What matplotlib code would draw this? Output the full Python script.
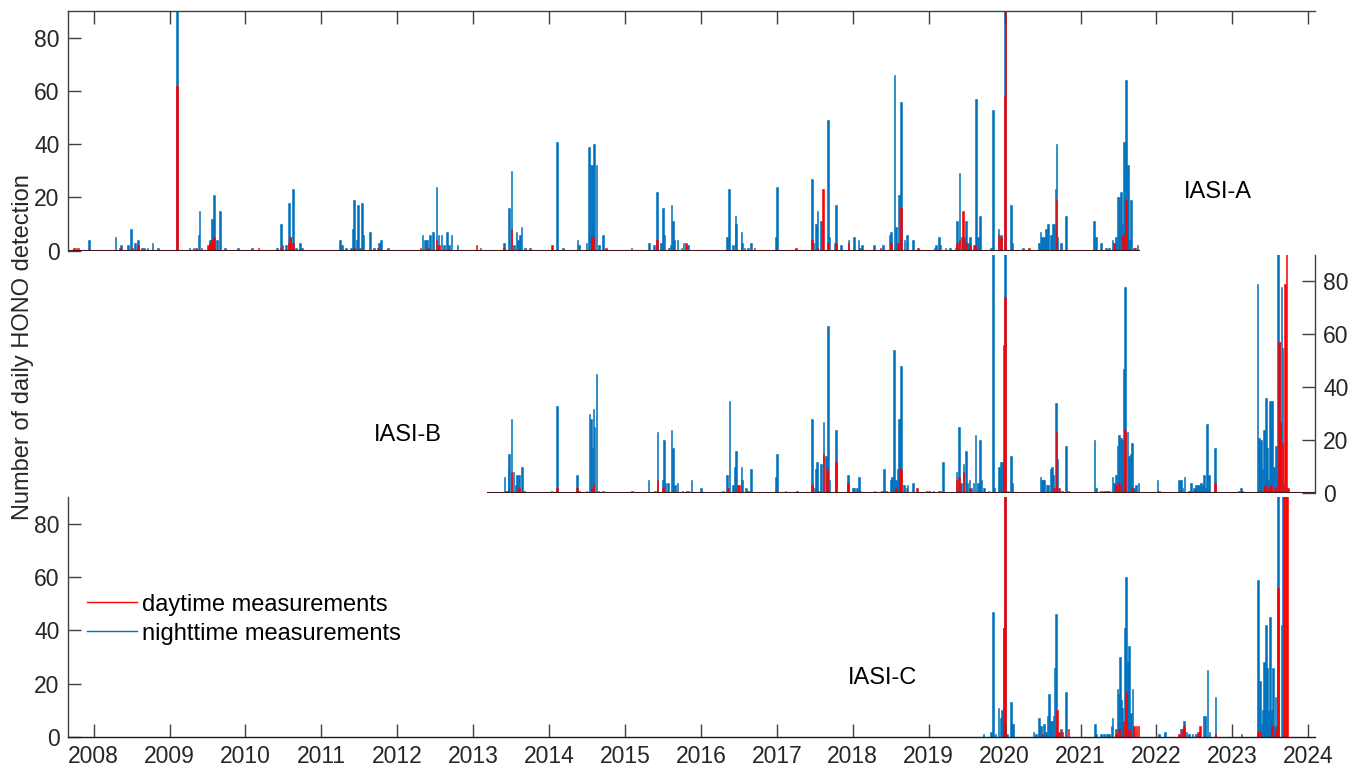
import matplotlib
matplotlib.use('Agg')
import matplotlib.pyplot as plt
from matplotlib.lines import Line2D

plt.rcParams['font.family'] = ['Liberation Sans', 'DejaVu Sans']

# daily HONO detections, dates as decimal years
# IASI-A
a_date = [2007.746, 2007.773, 2007.800, 2007.943, 2008.289, 2008.351, 2008.364, 2008.453, 2008.492, 2008.513,
          2008.545, 2008.588, 2008.637, 2008.667, 2008.711, 2008.776, 2008.851, 2009.097, 2009.263, 2009.316,
          2009.351, 2009.382, 2009.395, 2009.421, 2009.509, 2009.526, 2009.545, 2009.562, 2009.584, 2009.624,
          2009.667, 2009.733, 2009.900, 2010.084, 2010.171, 2010.413, 2010.466, 2010.483, 2010.536, 2010.571,
          2010.588, 2010.624, 2010.667, 2010.720, 2010.746, 2011.246, 2011.268, 2011.325, 2011.390, 2011.413,
          2011.430, 2011.466, 2011.483, 2011.509, 2011.539, 2011.553, 2011.641, 2011.697, 2011.742, 2011.759,
          2011.782, 2011.874, 2012.308, 2012.334, 2012.368, 2012.391, 2012.408, 2012.430, 2012.474, 2012.518,
          2012.545, 2012.553, 2012.584, 2012.614, 2012.658, 2012.684, 2012.716, 2012.795, 2013.045, 2013.097,
          2013.408, 2013.470, 2013.505, 2013.536, 2013.571, 2013.592, 2013.614, 2013.637, 2013.680, 2013.746,
          2014.039, 2014.105, 2014.184, 2014.374, 2014.395, 2014.492, 2014.526, 2014.545, 2014.562, 2014.579,
          2014.592, 2014.624, 2014.654, 2014.711, 2014.746, 2015.084, 2015.312, 2015.378, 2015.421, 2015.470,
          2015.500, 2015.518, 2015.579, 2015.597, 2015.611, 2015.628, 2015.641, 2015.693, 2015.742, 2015.772,
          2015.799, 2015.829, 2016.347, 2016.368, 2016.421, 2016.453, 2016.466, 2016.532, 2016.545, 2016.575,
          2016.618, 2016.663, 2016.707, 2016.992, 2017.005, 2017.255, 2017.466, 2017.483, 2017.518, 2017.536,
          2017.584, 2017.605, 2017.671, 2017.693, 2017.759, 2017.782, 2017.847, 2017.943, 2018.013, 2018.075,
          2018.097, 2018.124, 2018.276, 2018.364, 2018.395, 2018.483, 2018.505, 2018.550, 2018.571, 2018.592,
          2018.601, 2018.614, 2018.637, 2018.680, 2018.711, 2018.789, 2018.855, 2019.075, 2019.097, 2019.132,
          2019.154, 2019.220, 2019.282, 2019.351, 2019.374, 2019.404, 2019.439, 2019.453, 2019.461, 2019.492,
          2019.518, 2019.545, 2019.588, 2019.614, 2019.624, 2019.645, 2019.676, 2019.821, 2019.851, 2019.921,
          2019.953, 2020.000, 2020.013, 2020.084, 2020.097, 2020.245, 2020.320, 2020.453, 2020.471, 2020.492,
          2020.522, 2020.545, 2020.571, 2020.610, 2020.632, 2020.654, 2020.671, 2020.684, 2020.697, 2020.742,
          2020.808, 2021.180, 2021.203, 2021.268, 2021.334, 2021.378, 2021.421, 2021.443, 2021.466, 2021.487,
          2021.509, 2021.532, 2021.553, 2021.562, 2021.575, 2021.597, 2021.624, 2021.641, 2021.663, 2021.707,
          2021.720, 2021.750]
a_night = [0, 0, 0, 4, 5, 0, 2, 2, 8, 0,
           3, 4, 1, 1, 1, 3, 1, 95, 1, 1,
           0, 6, 15, 1, 0, 4, 4, 12, 21, 4,
           15, 1, 1, 1, 0, 1, 10, 2, 2, 18,
           5, 23, 1, 3, 1, 4, 2, 1, 1, 8,
           19, 4, 17, 1, 18, 6, 7, 1, 0, 3,
           4, 1, 0, 6, 4, 4, 0, 6, 7, 24,
           6, 0, 6, 2, 7, 2, 6, 2, 0, 1,
           3, 16, 30, 2, 7, 4, 6, 9, 1, 1,
           0, 41, 1, 4, 2, 3, 39, 32, 32, 9,
           40, 32, 2, 6, 0, 1, 3, 2, 22, 3,
           16, 6, 1, 2, 17, 11, 4, 4, 1, 3,
           0, 2, 5, 23, 2, 13, 10, 7, 3, 1,
           1, 3, 0, 5, 24, 0, 27, 3, 10, 15,
           11, 0, 49, 5, 3, 17, 2, 4, 5, 4,
           1, 2, 2, 0, 2, 6, 7, 66, 9, 0,
           21, 21, 56, 4, 6, 4, 0, 1, 2, 5,
           2, 1, 1, 1, 11, 29, 5, 0, 5, 11,
           3, 5, 2, 0, 57, 5, 13, 1, 53, 8,
           6, 95, 95, 17, 3, 1, 0, 3, 7, 5,
           5, 8, 10, 6, 10, 10, 23, 40, 5, 3,
           13, 11, 5, 3, 1, 1, 4, 0, 5, 20,
           20, 22, 10, 0, 41, 64, 32, 4, 19, 1,
           0, 2]
a_day = [1, 1, 1, 0, 0, 1, 0, 0, 0, 1,
         0, 2, 0, 0, 0, 0, 0, 62, 0, 0,
         1, 0, 0, 0, 2, 3, 3, 4, 5, 0,
         0, 0, 0, 0, 1, 0, 1, 0, 0, 3,
         5, 3, 0, 0, 0, 0, 0, 0, 0, 0,
         1, 0, 0, 0, 0, 0, 0, 0, 1, 0,
         0, 0, 1, 0, 0, 0, 1, 0, 0, 4,
         0, 2, 0, 0, 0, 0, 0, 0, 2, 0,
         1, 0, 8, 0, 0, 0, 0, 0, 0, 0,
         2, 0, 0, 0, 0, 0, 0, 0, 5, 5,
         0, 0, 0, 0, 1, 0, 0, 0, 4, 0,
         0, 0, 0, 0, 0, 0, 0, 0, 0, 0,
         3, 0, 0, 0, 0, 0, 0, 0, 0, 0,
         0, 0, 1, 0, 0, 1, 4, 0, 0, 1,
         0, 23, 3, 0, 0, 3, 0, 3, 0, 0,
         0, 0, 0, 1, 0, 0, 3, 0, 0, 3,
         0, 0, 16, 0, 0, 0, 1, 0, 0, 0,
         0, 0, 0, 0, 3, 4, 0, 15, 0, 3,
         0, 2, 0, 2, 0, 0, 0, 0, 0, 6,
         5, 58, 95, 0, 0, 0, 1, 0, 0, 0,
         0, 0, 0, 0, 0, 0, 0, 19, 0, 0,
         0, 0, 0, 0, 0, 0, 0, 3, 0, 0,
         0, 0, 0, 6, 0, 19, 0, 0, 0, 0,
         1, 0]

# IASI-B
b_date = [2013.413, 2013.430, 2013.457, 2013.466, 2013.474, 2013.505, 2013.532, 2013.562, 2013.579, 2013.605,
          2013.641, 2013.668, 2014.032, 2014.105, 2014.368, 2014.395, 2014.492, 2014.532, 2014.553, 2014.562,
          2014.571, 2014.584, 2014.597, 2014.624, 2014.650, 2014.711, 2015.088, 2015.308, 2015.391, 2015.426,
          2015.500, 2015.513, 2015.532, 2015.566, 2015.611, 2015.632, 2015.654, 2015.689, 2015.759, 2015.811,
          2015.829, 2015.874, 2016.005, 2016.289, 2016.342, 2016.355, 2016.374, 2016.421, 2016.447, 2016.466,
          2016.487, 2016.509, 2016.532, 2016.545, 2016.597, 2016.618, 2016.663, 2016.983, 2016.992, 2017.005,
          2017.114, 2017.268, 2017.466, 2017.497, 2017.518, 2017.532, 2017.539, 2017.584, 2017.614, 2017.649,
          2017.663, 2017.676, 2017.693, 2017.782, 2017.934, 2018.000, 2018.013, 2018.053, 2018.079, 2018.101,
          2018.286, 2018.387, 2018.408, 2018.439, 2018.505, 2018.518, 2018.545, 2018.571, 2018.592, 2018.605,
          2018.618, 2018.637, 2018.676, 2018.707, 2018.720, 2018.789, 2018.847, 2018.979, 2019.009, 2019.062,
          2019.128, 2019.150, 2019.184, 2019.368, 2019.395, 2019.426, 2019.457, 2019.492, 2019.513, 2019.536,
          2019.558, 2019.592, 2019.618, 2019.645, 2019.676, 2019.697, 2019.724, 2019.789, 2019.847, 2019.864,
          2019.930, 2019.953, 2019.974, 2019.987, 2020.005, 2020.039, 2020.084, 2020.097, 2020.471, 2020.488,
          2020.500, 2020.522, 2020.553, 2020.575, 2020.610, 2020.624, 2020.641, 2020.654, 2020.676, 2020.684,
          2020.697, 2020.720, 2020.759, 2020.808, 2020.842, 2021.184, 2021.203, 2021.268, 2021.312, 2021.334,
          2021.355, 2021.378, 2021.421, 2021.443, 2021.466, 2021.487, 2021.509, 2021.532, 2021.545, 2021.562,
          2021.575, 2021.588, 2021.618, 2021.641, 2021.663, 2021.676, 2021.707, 2021.729, 2021.763, 2022.013,
          2022.036, 2022.300, 2022.321, 2022.342, 2022.368, 2022.430, 2022.453, 2022.496, 2022.510, 2022.518,
          2022.539, 2022.561, 2022.584, 2022.605, 2022.628, 2022.650, 2022.663, 2022.693, 2022.768, 2023.088,
          2023.111, 2023.132, 2023.329, 2023.351, 2023.374, 2023.395, 2023.413, 2023.426, 2023.439, 2023.453,
          2023.470, 2023.483, 2023.492, 2023.505, 2023.526, 2023.549, 2023.562, 2023.571, 2023.584, 2023.601,
          2023.614, 2023.628, 2023.645, 2023.658, 2023.675, 2023.690, 2023.712, 2023.728]
b_night = [6, 0, 0, 9, 15, 28, 8, 3, 7, 7,
           10, 1, 1, 33, 7, 1, 1, 30, 28, 0,
           17, 32, 25, 45, 1, 1, 1, 5, 1, 23,
           5, 20, 4, 4, 24, 17, 3, 4, 0, 0,
           1, 5, 2, 1, 7, 0, 35, 3, 10, 16,
           0, 0, 10, 5, 2, 0, 9, 0, 6, 15,
           1, 0, 28, 2, 9, 12, 0, 11, 27, 14,
           0, 63, 5, 24, 7, 2, 2, 2, 6, 1,
           1, 0, 9, 1, 5, 6, 54, 5, 9, 28,
           17, 48, 3, 2, 3, 4, 0, 1, 0, 1,
           1, 1, 12, 8, 25, 4, 11, 16, 4, 5,
           2, 4, 22, 4, 20, 5, 2, 1, 95, 2,
           10, 12, 12, 12, 95, 1, 14, 4, 6, 5,
           5, 5, 3, 3, 9, 10, 7, 0, 34, 0,
           13, 0, 0, 18, 0, 20, 2, 1, 1, 0,
           1, 1, 6, 4, 7, 18, 22, 21, 20, 7,
           47, 78, 23, 14, 15, 19, 2, 3, 4, 5,
           1, 5, 5, 2, 6, 0, 4, 2, 0, 3,
           3, 3, 4, 3, 7, 2, 26, 7, 17, 1,
           2, 1, 79, 21, 20, 9, 24, 0, 36, 17,
           5, 0, 35, 25, 35, 10, 0, 18, 5, 95,
           57, 0, 78, 55, 3, 0, 0, 0]
b_day = [0, 1, 1, 0, 0, 8, 0, 0, 0, 2,
         0, 0, 0, 2, 2, 0, 0, 0, 0, 2,
         0, 4, 0, 0, 0, 0, 0, 0, 0, 5,
         2, 0, 0, 0, 0, 0, 0, 0, 1, 1,
         0, 0, 0, 0, 0, 2, 0, 0, 0, 0,
         3, 3, 0, 0, 0, 1, 0, 1, 0, 0,
         0, 1, 3, 0, 0, 0, 1, 0, 15, 0,
         9, 0, 0, 12, 4, 0, 0, 0, 0, 0,
         0, 1, 0, 0, 0, 0, 0, 2, 0, 0,
         9, 9, 0, 0, 0, 0, 2, 0, 1, 0,
         0, 0, 0, 5, 6, 0, 8, 0, 0, 2,
         0, 0, 0, 0, 0, 0, 0, 0, 0, 0,
         0, 0, 0, 56, 74, 0, 0, 0, 0, 0,
         1, 0, 0, 0, 0, 0, 0, 2, 0, 23,
         0, 2, 1, 0, 1, 0, 0, 0, 0, 1,
         0, 0, 0, 0, 3, 0, 4, 0, 0, 0,
         0, 24, 0, 0, 0, 2, 0, 0, 0, 0,
         0, 0, 0, 0, 0, 1, 0, 0, 1, 0,
         0, 0, 0, 0, 0, 0, 0, 0, 4, 0,
         0, 0, 0, 1, 0, 0, 0, 3, 0, 0,
         0, 2, 0, 3, 0, 0, 2, 0, 0, 0,
         57, 27, 0, 19, 0, 79, 95, 2]

# IASI-C
c_date = [2019.720, 2019.821, 2019.851, 2019.878, 2019.921, 2019.953, 2019.966, 2019.987, 2020.005, 2020.032,
          2020.084, 2020.097, 2020.114, 2020.382, 2020.413, 2020.457, 2020.479, 2020.500, 2020.522, 2020.545,
          2020.566, 2020.588, 2020.610, 2020.632, 2020.645, 2020.658, 2020.676, 2020.689, 2020.720, 2020.742,
          2020.763, 2020.808, 2020.842, 2021.189, 2021.203, 2021.272, 2021.312, 2021.351, 2021.378, 2021.408,
          2021.421, 2021.466, 2021.487, 2021.509, 2021.522, 2021.536, 2021.545, 2021.553, 2021.566, 2021.584,
          2021.597, 2021.624, 2021.641, 2021.663, 2021.684, 2021.707, 2021.737, 2021.763, 2022.036, 2022.111,
          2022.300, 2022.321, 2022.342, 2022.365, 2022.395, 2022.430, 2022.474, 2022.518, 2022.540, 2022.561,
          2022.575, 2022.620, 2022.636, 2022.672, 2022.697, 2022.777, 2023.118, 2023.334, 2023.360, 2023.382,
          2023.404, 2023.413, 2023.426, 2023.439, 2023.457, 2023.470, 2023.492, 2023.505, 2023.518, 2023.535,
          2023.549, 2023.566, 2023.584, 2023.605, 2023.645, 2023.658, 2023.680, 2023.700, 2023.720]
c_night = [1, 2, 47, 1, 11, 7, 10, 41, 95, 1,
           13, 5, 5, 2, 1, 7, 4, 0, 5, 2,
           8, 16, 6, 6, 8, 26, 46, 0, 0, 3,
           0, 17, 0, 5, 1, 1, 1, 1, 1, 4,
           7, 3, 18, 16, 30, 14, 11, 5, 0, 41,
           60, 28, 34, 9, 18, 0, 0, 0, 1, 2,
           0, 3, 0, 6, 2, 1, 1, 1, 2, 0,
           0, 8, 8, 25, 2, 15, 1, 59, 21, 5,
           10, 28, 10, 42, 26, 10, 45, 8, 10, 26,
           4, 15, 4, 95, 42, 95, 0, 0, 0]
c_day = [0, 0, 0, 0, 0, 0, 0, 41, 95, 0,
         0, 0, 0, 0, 0, 0, 0, 1, 0, 0,
         0, 0, 0, 0, 0, 0, 0, 10, 2, 0,
         2, 0, 3, 0, 0, 0, 0, 0, 0, 0,
         0, 1, 0, 3, 0, 0, 0, 0, 6, 0,
         17, 0, 3, 0, 0, 4, 4, 4, 0, 0,
         1, 0, 3, 4, 0, 0, 0, 0, 0, 2,
         4, 0, 0, 0, 0, 1, 0, 2, 2, 0,
         0, 0, 0, 0, 0, 0, 0, 0, 4, 0,
         0, 3, 0, 56, 0, 0, 95, 95, 95]

# periods covered by each instrument record
a_span = [2007.663, 2021.78]
b_span = [2013.184, 2024.088]
years = list(range(2008, 2025))

BLUE = '#0072BD'
RED = '#FF0000'
INK = '#262626'
AXC = '#404040'
W, H = 1365, 777

fig = plt.figure(figsize=(W / 100, H / 100), dpi=100)


def add_ax(x0, y0, x1, y1):
    return fig.add_axes([x0 / W, 1 - y1 / H, (x1 - x0) / W, (y1 - y0) / H])


def setup(ax, date, night, day, span=None):
    ax.bar(date, night, width=0.022, color=BLUE, edgecolor=BLUE, linewidth=0.4)
    ax.bar(date, day, width=0.022, color=RED, edgecolor=RED, linewidth=0.4)
    if span is not None:
        ax.plot(span, [0, 0], color='#3b1616', lw=1.5, solid_capstyle='butt')
    ax.set_xlim(2007.663, 2024.088)
    ax.set_ylim(0, 90)
    ax.set_xticks(years)
    ax.set_yticks([0, 20, 40, 60, 80])
    ax.patch.set_alpha(0)
    for s in ax.spines.values():
        s.set_visible(False)
        s.set_color(AXC)
        s.set_linewidth(1.0)
    ax.tick_params(direction='in', length=9.3, width=1.0, color=AXC,
                   labelsize=16.5, labelcolor=INK, pad=6)


ax_a = add_ax(68, 11, 1315, 250.7)
setup(ax_a, a_date, a_night, a_day, a_span)
ax_a.spines['left'].set_visible(True)
ax_a.spines['top'].set_visible(True)
ax_a.xaxis.tick_top()
ax_a.tick_params(axis='x', labeltop=False)
ax_a.text(2022.364, 22, 'IASI-A', fontsize=17, va='center', ha='left', color='black')

ax_b = add_ax(68, 255, 1315, 493.3)
setup(ax_b, b_date, b_night, b_day, b_span)
ax_b.spines['right'].set_visible(True)
ax_b.yaxis.tick_right()
ax_b.tick_params(axis='x', bottom=False, labelbottom=False)
ax_b.text(2011.697, 22, 'IASI-B', fontsize=17, va='center', ha='left', color='black')

ax_c = add_ax(68, 497.3, 1315, 737)
setup(ax_c, c_date, c_night, c_day)
ax_c.spines['left'].set_visible(True)
ax_c.spines['bottom'].set_visible(True)
ax_c.spines['bottom'].set_color('#1a1a1a')
ax_c.tick_params(axis='x', pad=6)
ax_c.text(2017.94, 22, 'IASI-C', fontsize=17, va='center', ha='left', color='black')

handles = [Line2D([], [], color=RED, lw=1.0), Line2D([], [], color=BLUE, lw=1.0)]
ax_c.legend(handles, ['daytime measurements', 'nighttime measurements'],
            loc='upper left', bbox_to_anchor=(0.0152, 0.598), frameon=False,
            fontsize=17, handlelength=2.12, handletextpad=0.21,
            labelspacing=0.29, borderpad=0, borderaxespad=0)

fig.text(0.0165, 0.553, 'Number of daily HONO detection', rotation=90,
         ha='center', va='center', fontsize=17, color=INK)

fig.savefig('out.png', dpi=100)
